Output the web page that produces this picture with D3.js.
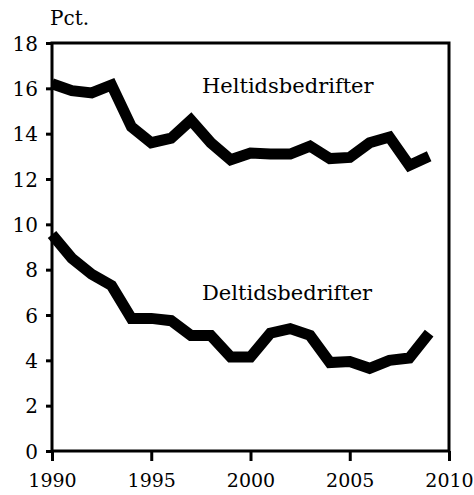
<!DOCTYPE html>
<html lang="en">
<head>
<meta charset="UTF-8">
<script src="https://cdn.jsdelivr.net/npm/d3@7"></script>
<style>
    body { margin: 0; background: #fff; }
    svg text { font-family: "DejaVu Serif", serif; fill: #000; }
</style>
</head>
<body>
<div id="chart"></div>
<script>
    const years = d3.range(1990, 2010);
    const heltid = [16.2, 15.9, 15.8, 16.15, 14.3, 13.6, 13.8, 14.6, 13.6, 12.85,
                    13.15, 13.1, 13.1, 13.45, 12.9, 12.95, 13.6, 13.85, 12.6, 13.0];
    const deltid = [9.55, 8.5, 7.8, 7.3, 5.85, 5.85, 5.75, 5.1, 5.1, 4.15,
                    4.15, 5.2, 5.4, 5.1, 3.9, 3.95, 3.65, 4.0, 4.1, 5.2];
    const yTicks = [0, 2, 4, 6, 8, 10, 12, 14, 16, 18];
    const xTicks = [1990, 1995, 2000, 2005, 2010];

    const width = 474, height = 495;
    const margin = {top: 43, right: 25, bottom: 44, left: 52};

    const svg = d3.select("#chart").append("svg")
        .attr("width", width)
        .attr("height", height);

    const x = d3.scaleLinear().domain([1990, 2010]).range([margin.left, width - margin.right]);
    const y = d3.scaleLinear().domain([0, 18]).range([height - margin.bottom, margin.top]);

    // y axis
    const yAxis = svg.append("g")
        .attr("transform", `translate(${margin.left},0)`)
        .call(d3.axisLeft(y).tickValues(yTicks).tickSize(6).tickPadding(8).tickFormat(d3.format("d")));
    yAxis.select(".domain").remove();
    yAxis.selectAll("line").attr("stroke-width", 3);
    yAxis.selectAll("text").style("font-size", "20px").attr("dy", "0.35em");

    // x axis
    const xAxis = svg.append("g")
        .attr("transform", `translate(0,${y(0)})`)
        .call(d3.axisBottom(x).tickValues(xTicks).tickSize(10).tickPadding(13).tickFormat(d3.format("d")));
    xAxis.select(".domain").remove();
    xAxis.selectAll("line").attr("stroke-width", 3);
    xAxis.selectAll("text").style("font-size", "19px");

    // frame
    svg.append("rect")
        .attr("x", x(1990))
        .attr("y", y(18))
        .attr("width", x(2010) - x(1990))
        .attr("height", y(0) - y(18))
        .attr("fill", "none")
        .attr("stroke", "#000")
        .attr("stroke-width", 3);

    const line = d3.line()
        .x((d, i) => x(years[i]))
        .y(d => y(d));

    [heltid, deltid].forEach(s => {
        svg.append("path")
            .datum(s)
            .attr("d", line)
            .attr("fill", "none")
            .attr("stroke", "#000")
            .attr("stroke-width", 11)
            .attr("stroke-linejoin", "miter");
    });

    svg.append("text")
        .attr("x", margin.left - 2)
        .attr("y", 25)
        .style("font-size", "20px")
        .text("Pct.");

    svg.append("text")
        .attr("x", 202)
        .attr("y", 93)
        .style("font-size", "21px")
        .text("Heltidsbedrifter");

    svg.append("text")
        .attr("x", 202)
        .attr("y", 300)
        .style("font-size", "21px")
        .text("Deltidsbedrifter");
</script>
</body>
</html>
